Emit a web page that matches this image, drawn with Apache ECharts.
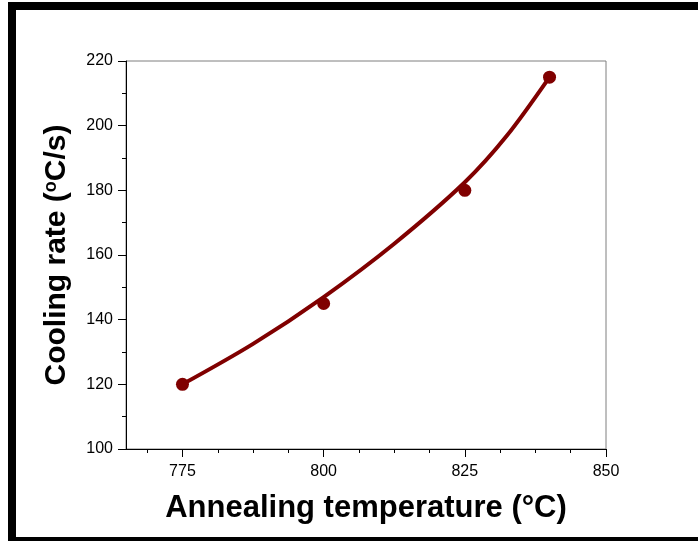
<!DOCTYPE html>
<html>
<head>
<meta charset="utf-8">
<script src="https://cdn.jsdelivr.net/npm/echarts@6/dist/echarts.min.js"></script>
<style>
html,body{margin:0;padding:0;background:#fff;}
#chart{width:698px;height:541px;}
</style>
</head>
<body>
<div id="chart"></div>
<script>
// Measured data points
var temps = [775, 800, 825, 840];
var rates = [120, 145, 180, 215];
// Fitted curve
var curveX = [775, 787.5, 800, 812.5, 825, 832.5, 840];
var curveY = [120, 132.5, 147, 163.5, 182.5, 197, 215];
// Tick labels
var xMajorTicks = [775, 800, 825, 850];
var xMinorTicks = [768.75, 781.25, 787.5, 793.75, 806.25, 812.5, 818.75, 831.25, 837.5, 843.75];

var FONT = "'Liberation Sans', Arial, sans-serif";
var RED = '#800000';

var chart = echarts.init(document.getElementById('chart'), null, {renderer: 'canvas'});
chart.setOption({
  backgroundColor: '#fff',
  animation: false,
  graphic: [
    {type: 'rect', shape: {x: 8, y: 2, width: 690, height: 8}, style: {fill: '#000'}},
    {type: 'rect', shape: {x: 8, y: 2, width: 8, height: 539}, style: {fill: '#000'}},
    {type: 'rect', shape: {x: 8, y: 537, width: 690, height: 4}, style: {fill: '#000'}}
  ],
  grid: {
    left: 126, top: 61, right: 92, bottom: 92,
    show: true, borderColor: '#7f7f7f', borderWidth: 1, backgroundColor: 'transparent'
  },
  xAxis: [{
    type: 'value', min: 765, max: 850, position: 'bottom',
    name: 'Annealing temperature (\u00B0C)',
    nameLocation: 'middle', nameGap: 44,
    nameTextStyle: {fontFamily: FONT, fontSize: 31, fontWeight: 'bold', color: '#000'},
    axisLine: {show: true, lineStyle: {color: '#000', width: 1}},
    axisTick: {show: true, customValues: xMajorTicks, length: 8, lineStyle: {color: '#000'}},
    axisLabel: {customValues: xMajorTicks, margin: 15, fontFamily: FONT, fontSize: 16, color: '#000'},
    splitLine: {show: false}
  }, {
    type: 'value', min: 765, max: 850, position: 'bottom', offset: 0,
    axisLine: {show: false},
    axisTick: {show: true, customValues: xMinorTicks, length: 4, lineStyle: {color: '#000'}},
    axisLabel: {show: false},
    splitLine: {show: false}
  }],
  yAxis: {
    type: 'value', min: 100, max: 220, interval: 20,
    name: 'Cooling rate ({sup|o}C/s)',
    nameLocation: 'middle', nameGap: 54,
    nameTextStyle: {
      fontFamily: FONT, fontSize: 30, fontWeight: 'bold', color: '#000',
      rich: {sup: {fontFamily: FONT, fontSize: 18, fontWeight: 'bold', color: '#000', verticalAlign: 'top', padding: [0, 0, 10, 0]}}
    },
    axisLine: {show: true, lineStyle: {color: '#000', width: 1}},
    axisTick: {show: true, length: 8, lineStyle: {color: '#000'}},
    minorTick: {show: true, splitNumber: 2, length: 4, lineStyle: {color: '#000'}},
    axisLabel: {margin: 13, fontFamily: FONT, fontSize: 16, color: '#000'},
    splitLine: {show: false}
  },
  series: [{
    type: 'line', xAxisIndex: 0,
    data: curveX.map(function (x, i) { return [x, curveY[i]]; }),
    smooth: 0.3, showSymbol: false,
    lineStyle: {color: RED, width: 4},
    z: 2
  }, {
    type: 'scatter', xAxisIndex: 0,
    data: temps.map(function (x, i) { return [x, rates[i]]; }),
    symbol: 'circle', symbolSize: 13,
    itemStyle: {color: RED, opacity: 1},
    z: 3
  }]
});
</script>
</body>
</html>
